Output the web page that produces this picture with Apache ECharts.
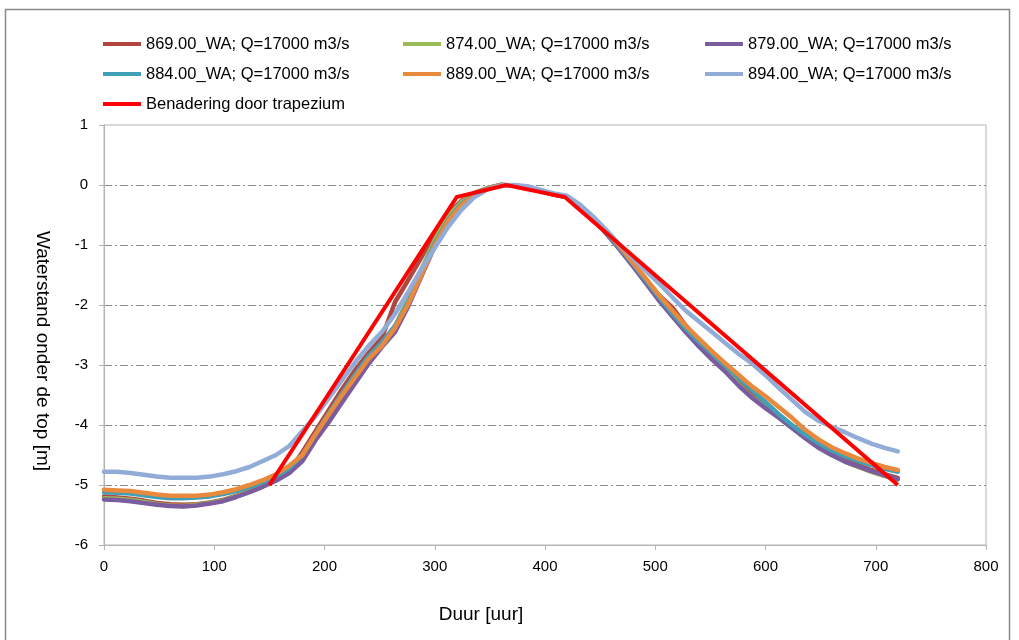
<!DOCTYPE html>
<html>
<head>
<meta charset="utf-8">
<script src="https://cdn.jsdelivr.net/npm/echarts@6/dist/echarts.min.js"></script>
<style>
  html, body { margin: 0; padding: 0; background: #ffffff; }
  #chart { width: 1019px; height: 640px; }
</style>
</head>
<body>
<div id="chart"></div>
<script>
// Tijdstappen (uur) waarop de waterstanden bekend zijn
const hours = [0,12,24,36,48,60,72,84,96,108,120,132,144,156,168,180,192,204,216,228,240,252,264,276,288,300,312,324,336,348,360,372,384,396,408,420,432,444,456,468,480,492,504,516,528,540,552,564,576,588,600,612,624,636,648,660,672,684,696,708,720];

// Waterstand onder de top [m] per locatie
const wa869 = [-5.19,-5.21,-5.23,-5.26,-5.30,-5.32,-5.33,-5.32,-5.29,-5.25,-5.18,-5.10,-5.00,-4.90,-4.77,
  -4.45,-4.10,-3.75,-3.40,-3.08,-2.80,-2.55,-1.95,-1.58,-1.20,-0.80,-0.48,-0.27,-0.13,-0.05,0,
  -0.01,-0.04,-0.10,-0.16,-0.20,-0.36,-0.56,-0.80,
  -1.05,-1.32,-1.60,-1.85,-2.05,-2.35,-2.62,-2.85,-3.08,-3.30,-3.50,-3.68,-3.85,-4.02,-4.19,-4.35,-4.47,-4.58,-4.67,-4.75,-4.82,-4.88];
const wa874 = [-5.22,-5.23,-5.25,-5.28,-5.32,-5.34,-5.35,-5.33,-5.30,-5.26,-5.19,-5.11,-5.02,-4.92,-4.79,
  -4.55,-4.20,-3.90,-3.55,-3.22,-2.92,-2.66,-2.35,-1.90,-1.40,-0.92,-0.52,-0.29,-0.14,-0.05,0,
  -0.01,-0.04,-0.10,-0.16,-0.20,-0.36,-0.56,-0.81,
  -1.06,-1.34,-1.63,-1.92,-2.19,-2.44,-2.67,-2.89,-3.10,-3.33,-3.54,-3.71,-3.87,-4.04,-4.21,-4.37,-4.50,-4.61,-4.70,-4.78,-4.85,-4.91];
const wa879 = [-5.24,-5.25,-5.27,-5.30,-5.33,-5.35,-5.36,-5.34,-5.31,-5.27,-5.20,-5.12,-5.03,-4.93,-4.80,
  -4.60,-4.25,-3.95,-3.62,-3.30,-2.98,-2.70,-2.45,-2.02,-1.52,-1.02,-0.60,-0.33,-0.16,-0.06,0,
  -0.01,-0.04,-0.10,-0.16,-0.20,-0.37,-0.57,-0.82,
  -1.08,-1.36,-1.65,-1.94,-2.20,-2.46,-2.70,-2.92,-3.12,-3.35,-3.55,-3.72,-3.88,-4.05,-4.22,-4.38,-4.50,-4.61,-4.69,-4.77,-4.84,-4.90];
const wa884 = [-5.12,-5.13,-5.14,-5.17,-5.20,-5.22,-5.22,-5.21,-5.19,-5.15,-5.10,-5.03,-4.95,-4.85,-4.72,
  -4.50,-4.15,-3.80,-3.47,-3.15,-2.85,-2.62,-2.35,-1.95,-1.45,-0.97,-0.58,-0.32,-0.16,-0.06,0,
  -0.01,-0.04,-0.10,-0.16,-0.20,-0.36,-0.56,-0.80,
  -1.05,-1.32,-1.60,-1.88,-2.15,-2.40,-2.62,-2.82,-3.02,-3.22,-3.42,-3.62,-3.82,-4.00,-4.16,-4.30,-4.42,-4.52,-4.60,-4.67,-4.73,-4.78];
const wa889 = [-5.08,-5.09,-5.10,-5.13,-5.16,-5.18,-5.18,-5.18,-5.16,-5.12,-5.07,-5.00,-4.92,-4.82,-4.68,
  -4.50,-4.15,-3.82,-3.50,-3.20,-2.90,-2.68,-2.38,-1.98,-1.50,-1.00,-0.60,-0.34,-0.17,-0.06,0,
  -0.01,-0.04,-0.10,-0.16,-0.20,-0.36,-0.56,-0.78,
  -1.03,-1.30,-1.57,-1.85,-2.10,-2.35,-2.57,-2.78,-2.98,-3.17,-3.36,-3.52,-3.70,-3.88,-4.08,-4.24,-4.37,-4.47,-4.56,-4.63,-4.70,-4.75];
const wa894 = [-4.78,-4.78,-4.80,-4.83,-4.86,-4.88,-4.88,-4.88,-4.86,-4.82,-4.77,-4.70,-4.60,-4.50,-4.35,
  -4.10,-3.85,-3.55,-3.25,-2.95,-2.68,-2.45,-2.15,-1.78,-1.40,-1.05,-0.70,-0.42,-0.20,-0.07,-0.01,
  0,-0.02,-0.08,-0.14,-0.18,-0.33,-0.53,-0.76,
  -1.00,-1.22,-1.44,-1.65,-1.88,-2.10,-2.28,-2.46,-2.64,-2.82,-2.98,-3.17,-3.38,-3.58,-3.78,-3.93,-4.03,-4.12,-4.22,-4.31,-4.38,-4.44];

// Trapeziumvormige benadering van de afvoergolf
const trapHours = [150, 320, 365, 418, 720];
const trapLevels = [-5, -0.2, 0, -0.2, -5];

// Serienamen zoals in de legenda
const seriesNames = [
  '869.00_WA; Q=17000 m3/s',
  '874.00_WA; Q=17000 m3/s',
  '879.00_WA; Q=17000 m3/s',
  '884.00_WA; Q=17000 m3/s',
  '889.00_WA; Q=17000 m3/s',
  '894.00_WA; Q=17000 m3/s',
  'Benadering door trapezium'
];
const seriesColors = ['#b0463f', '#9bbb59', '#7b5c9e', '#3fa0b8', '#e8893c', '#91acd6', '#ff0000'];

// Assen
const xTicks = { min: 0, max: 800, interval: 100 };
const yTicks = { min: -6, max: 1, interval: 1 };

const FONT = "'Liberation Sans', Arial, sans-serif";

function pairs(xs, ys) { return xs.map((x, i) => [x, ys[i]]); }

const levelSets = [wa869, wa874, wa879, wa884, wa889, wa894];
const series = levelSets.map((ys, i) => ({
  name: seriesNames[i],
  type: 'line',
  data: pairs(hours, ys),
  showSymbol: false,
  symbol: 'none',
  lineStyle: { color: seriesColors[i], width: 4.5, join: 'round', cap: 'round' },
  itemStyle: { color: seriesColors[i] },
  z: 2 + i
}));
series.push({
  name: seriesNames[6],
  type: 'line',
  data: pairs(trapHours, trapLevels),
  showSymbol: false,
  symbol: 'none',
  lineStyle: { color: seriesColors[6], width: 4, join: 'miter' },
  itemStyle: { color: seriesColors[6] },
  z: 10
});

// Legenda in drie kolommen
const legendCols = [103, 403, 705];
const legendRows = [35, 65, 95];
const legends = seriesNames.map((name, i) => ({
  data: [name],
  left: legendCols[i % 3],
  top: legendRows[Math.floor(i / 3)],
  padding: 0,
  icon: 'rect',
  itemWidth: 38,
  itemHeight: 4,
  selectedMode: false,
  textStyle: { fontFamily: FONT, fontSize: 16.5, color: '#000', lineHeight: 18, padding: [0, 0, 0, 0] }
}));

const chart = echarts.init(document.getElementById('chart'), null, { renderer: 'canvas' });
chart.setOption({
  animation: false,
  backgroundColor: '#ffffff',
  legend: legends,
  grid: {
    left: 104, right: 33, top: 125, bottom: 95,
    show: true, borderColor: '#b4b4b4', borderWidth: 1, backgroundColor: 'transparent'
  },
  xAxis: {
    type: 'value',
    min: xTicks.min, max: xTicks.max, interval: xTicks.interval,
    name: 'Duur [uur]',
    nameLocation: 'middle',
    nameGap: 60,
    nameTextStyle: { fontFamily: FONT, fontSize: 19, color: '#000', padding: [0, 128, 0, 0] },
    axisLine: { show: true, onZero: false, lineStyle: { color: '#b4b4b4', width: 1 } },
    axisTick: { show: true, inside: false, length: 5, lineStyle: { color: '#b4b4b4' } },
    axisLabel: { fontFamily: FONT, fontSize: 15, color: '#000', margin: 14 },
    splitLine: { show: false }
  },
  yAxis: {
    type: 'value',
    min: yTicks.min, max: yTicks.max, interval: yTicks.interval,
    name: 'Waterstand onder de top [m]',
    nameLocation: 'middle',
    nameRotate: -90,
    nameGap: 52,
    nameTextStyle: { fontFamily: FONT, fontSize: 19, color: '#000', padding: [0, 0, 0, 32] },
    axisLine: { show: true, onZero: false, lineStyle: { color: '#b4b4b4', width: 1 } },
    axisTick: { show: true, inside: false, length: 5, lineStyle: { color: '#b4b4b4' } },
    axisLabel: { fontFamily: FONT, fontSize: 15, color: '#000', margin: 16 },
    splitLine: {
      show: true, showMinLine: false, showMaxLine: false,
      lineStyle: { color: '#8a8a8a', width: 1, type: [8, 3, 2, 3] }
    }
  },
  graphic: [{
    type: 'rect',
    shape: { x: 5.5, y: 9.5, width: 1004, height: 700 },
    style: { fill: 'none', stroke: '#8a8a8a', lineWidth: 1.5 },
    silent: true,
    z: -1
  }],
  series: series
});
</script>
</body>
</html>
